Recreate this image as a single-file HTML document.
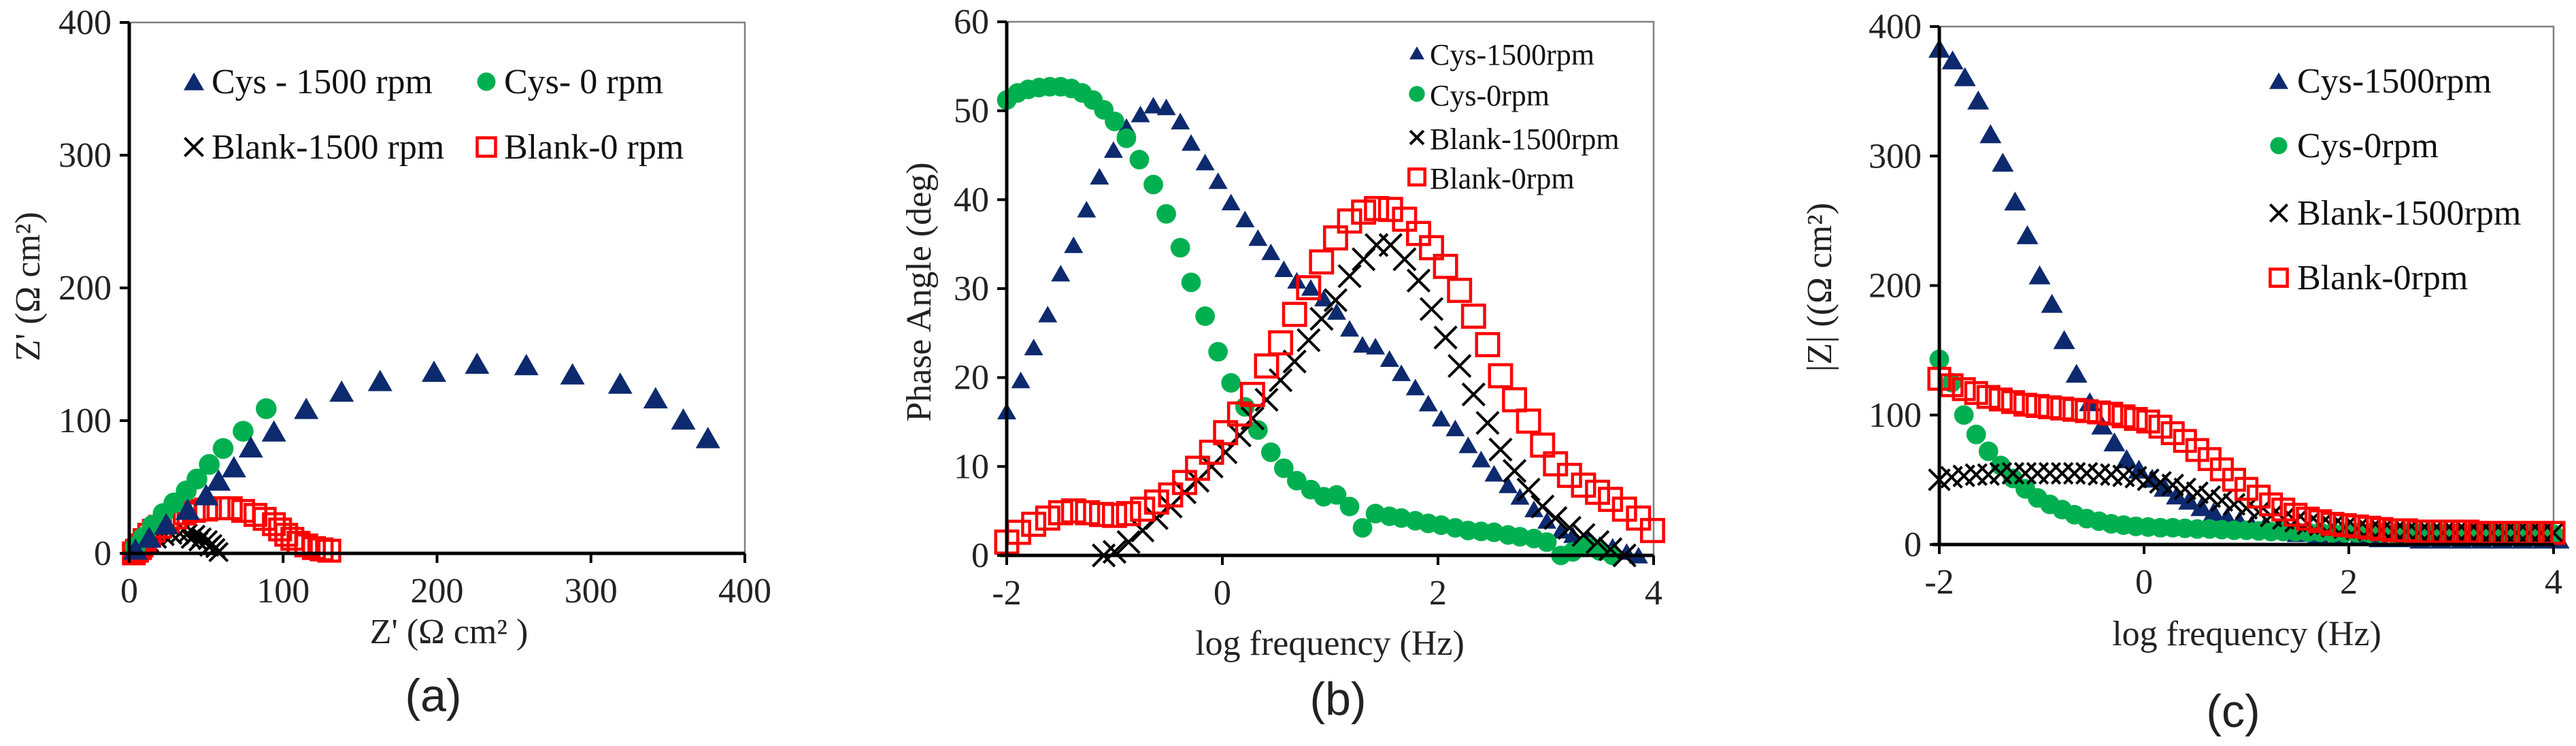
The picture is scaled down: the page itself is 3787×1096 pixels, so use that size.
<!DOCTYPE html>
<html><head><meta charset="utf-8">
<style>
html,body{margin:0;padding:0;background:#fff;}
svg{display:block;}
text{font-family:"Liberation Serif","Times New Roman",serif;}
</style></head>
<body>
<svg id="fig" width="3787" height="1096" viewBox="0 0 3787 1096" xmlns="http://www.w3.org/2000/svg" font-family="Liberation Serif, serif"></svg>
<script>
// ---------- Panel (a): Nyquist ----------
const aTicks = [0,100,200,300,400];
const aCys1500X = [376,360,342,319,288,258,226,198,163,138,115,94,79,68,58,50,38,24,13,4];
const aCys1500Y = [87,101,117,128,135,142,143,137,130,122,109,92,80,65,55,44,33,22,12,3];
const aCys0X = [89,74,61,52,44,37,29,22,15,9,4];
const aCys0Y = [109,92,79,67,56,47,38,30,21,12,5];
const aBlank1500X = [5,9,13,18,23,28,33,38,43,47,51,54,56,58,52,45,40];
const aBlank1500Y = [2,5,8,11,13,14,15,15,14,12,10,7,4,1,5,9,11];
const aBlank0X = [3,5,7,8,10,13,16,20,25,30,36,42,50,58,66,74,82,88,94,98,102,106,110,115,120,125,130];
const aBlank0Y = [0,2,4,6,10,14,17,20,24,27,30,32,33,34,34,32,29,26,22,18,14,11,8,6,4,3,2];

// ---------- Panel (b): Bode phase ----------
const bXTicks = [-2,0,2,4];
const bYTicks = [0,10,20,30,40,50,60];
const bCys1500X = [-2,-1.87,-1.75,-1.62,-1.5,-1.38,-1.26,-1.14,-1.01,-0.89,-0.76,-0.64,-0.52,-0.39,-0.29,-0.16,-0.04,0.08,0.21,0.33,0.45,0.57,0.69,0.82,0.94,1.06,1.18,1.3,1.42,1.55,1.66,1.79,1.91,2.03,2.16,2.28,2.4,2.52,2.65,2.76,2.89,3.01,3.14,3.25,3.38,3.5,3.62,3.75,3.86];
const bCys1500Y = [16.2,19.7,23.4,27.1,31.7,34.9,38.9,42.6,45.6,48.2,49.6,50.6,50.4,48.8,46.4,44.2,42.1,39.7,37.8,35.7,34.1,32.2,30.9,30.1,28.9,27.4,25.5,23.7,23.5,22.1,20.5,18.9,17.1,15.4,14.3,12.4,10.8,9.2,7.9,6.6,5.2,3.9,2.8,2.3,1.8,1.2,1.0,0.4,0];
const bCys0X = [-2,-1.9,-1.8,-1.7,-1.6,-1.5,-1.4,-1.3,-1.2,-1.1,-1.0,-0.89,-0.77,-0.64,-0.52,-0.39,-0.29,-0.16,-0.04,0.08,0.21,0.33,0.45,0.57,0.69,0.82,0.94,1.06,1.18,1.3,1.42,1.55,1.66,1.79,1.91,2.03,2.16,2.28,2.4,2.52,2.65,2.76,2.89,3.01,3.14,3.25,3.38,3.5,3.62];
const bCys0Y = [51.2,52,52.4,52.6,52.7,52.7,52.5,52,51.2,50.1,48.8,46.9,44.5,41.7,38.4,34.6,30.7,26.9,22.9,19.4,16.7,14.1,11.6,9.8,8.4,7.4,6.6,6.8,5.5,3.1,4.7,4.4,4.2,3.9,3.6,3.4,3.1,2.8,2.7,2.6,2.3,2.1,1.9,1.5,0,0.4,1.0,0.5,0];
const bBlank1500X = [-1.1,-1.0,-0.87,-0.74,-0.61,-0.48,-0.35,-0.23,-0.1,0.03,0.16,0.28,0.41,0.54,0.67,0.8,0.92,1.05,1.18,1.31,1.43,1.56,1.69,1.82,1.94,2.07,2.2,2.33,2.46,2.58,2.71,2.84,2.97,3.09,3.22,3.35,3.48,3.6,3.73];
const bBlank1500Y = [0,0.4,1.5,2.8,4.2,5.5,7.1,8.4,10,11.6,13.5,15.4,17.5,19.7,21.8,24.2,26.6,28.7,31.4,33.3,34.9,34.9,33.3,30.9,27.7,24.5,21.3,18.1,14.9,11.9,9.5,7.4,5.5,4.2,3.1,2.3,1.5,0.7,0];
const bBlank0X = [-2,-1.89,-1.75,-1.62,-1.5,-1.38,-1.25,-1.12,-1.0,-0.87,-0.74,-0.61,-0.48,-0.35,-0.23,-0.1,0.03,0.16,0.28,0.41,0.54,0.67,0.8,0.92,1.05,1.18,1.31,1.43,1.56,1.69,1.82,1.94,2.07,2.2,2.33,2.46,2.58,2.71,2.84,2.97,3.09,3.22,3.35,3.48,3.6,3.73,3.86,3.99];
const bBlank0Y = [1.5,2.6,3.5,4.2,4.8,5.0,4.8,4.6,4.5,4.7,5.2,6.0,6.8,8.2,9.8,11.6,13.8,15.9,18.1,21.3,23.9,27.1,30.1,33,35.7,37.6,38.6,39,38.9,37.8,36.2,34.6,32.5,29.8,26.9,23.7,20.2,17.5,15.1,12.4,10.3,9,7.9,7.1,6.3,5.2,4.2,2.8];

// ---------- Panel (c): Bode modulus ----------
const cXTicks = [-2,0,2,4];
const cYTicks = [0,100,200,300,400];
const cCys1500X = [-2,-1.87,-1.75,-1.62,-1.5,-1.38,-1.26,-1.14,-1.02,-0.9,-0.78,-0.66,-0.53,-0.41,-0.29,-0.17,-0.05,0.08,0.2,0.32,0.44,0.56,0.68,0.81,0.93,1.05,1.17,1.3,1.5,1.7,1.9,2.1,2.3,2.5,2.7,2.9,3.1,3.3,3.5,3.7,3.9,4.05];
const cCys1500Y = [383,374,361,343,317,295,265,239,208,186,158,132,110,92,79,66,58,51,44,38,34,29,25,21,18,15,13,11,9,8,7,6,5,5,4,4,4,4,4,4,4,4];
const cCys0X = [-2,-1.88,-1.76,-1.64,-1.52,-1.4,-1.28,-1.16,-1.04,-0.92,-0.8,-0.68,-0.56,-0.44,-0.32,-0.2,-0.08,0.04,0.16,0.28,0.4,0.52,0.64,0.76,0.88,1.0,1.12,1.24,1.36,1.48,1.6,1.72,1.84,1.96,2.08,2.2,2.32,2.44,2.56,2.68,2.8,2.92,3.04,3.16,3.28,3.4,3.52,3.64,3.76,3.88,4.0];
const cCys0Y = [143,125,100,85,72,61,51,43,36,31,27,23,20,18,16,15,14,13.5,13,13,12.5,12,12,11.5,11,11,10.5,10,10,10,9.5,9.5,9,9,9,9,9,8.5,8.5,8.5,8.5,8.5,8.5,8.5,8.5,8,8,8,8,8,8];
const cBlank1500X = [-2,-1.88,-1.76,-1.64,-1.52,-1.4,-1.28,-1.16,-1.04,-0.92,-0.8,-0.68,-0.56,-0.44,-0.32,-0.2,-0.08,0.04,0.16,0.28,0.4,0.52,0.64,0.76,0.88,1.0,1.12,1.24,1.36,1.48,1.6,1.72,1.84,1.96,2.08,2.2,2.32,2.44,2.56,2.68,2.8,2.92,3.04,3.16,3.28,3.4,3.52,3.64,3.76,3.88,4.0];
const cBlank1500Y = [50,52,53,54,54,55,55,55,55,55,55,55,55,54,54,53,52,50,48,46,43,40,37,34,31,28,25,22,20,18,16,15,14,13,12,11,11,10,10,9,9,9,9,9,9,9,9,9,9,9,9];
const cBlank0X = [-2,-1.88,-1.76,-1.64,-1.52,-1.4,-1.28,-1.16,-1.04,-0.92,-0.8,-0.68,-0.56,-0.44,-0.32,-0.2,-0.08,0.04,0.16,0.28,0.4,0.52,0.64,0.76,0.88,1.0,1.12,1.24,1.36,1.48,1.6,1.72,1.84,1.96,2.08,2.2,2.32,2.44,2.56,2.68,2.8,2.92,3.04,3.16,3.28,3.4,3.52,3.64,3.76,3.88,4.0];
const cBlank0Y = [128,123,120,117,114,112,110,108,107,106,105,104,103,102,101,99,97,95,91,86,80,73,66,58,50,43,37,31,27,23,20,18,16,15,14,13,12,11,11,10,10,10,10,10,9,9,9,9,9,9,9];

const NS = 'http://www.w3.org/2000/svg';
const svg = document.getElementById('fig');
const SERIF = '"Liberation Serif", "Times New Roman", serif';
function el(tag, attrs, parent){
  const e = document.createElementNS(NS, tag);
  for (const k in attrs) e.setAttribute(k, attrs[k]);
  (parent||svg).appendChild(e);
  return e;
}
function txt(str, attrs, parent){
  const t = el('text', attrs, parent);
  if (!attrs['font-family']) t.style.fontFamily = SERIF;
  else t.style.fontFamily = attrs['font-family'];
  t.textContent = str; return t;
}

const NAVY='#0d2a6e', GREEN='#00b050', RED='#ff0000';

function marker(g, kind, cx, cy, s){
  let m;
  if (kind==='tri'){
    m = el('path',{d:`M${cx},${cy-s*0.45} L${cx+s*0.5},${cy+s*0.42} L${cx-s*0.5},${cy+s*0.42} Z`,fill:NAVY},g);
  } else if (kind==='circ'){
    m = el('circle',{cx:cx,cy:cy,r:s*0.45,fill:GREEN},g);
  } else if (kind==='x'){
    const h=s*0.45;
    m = el('path',{d:`M${cx-h},${cy-h} L${cx+h},${cy+h} M${cx+h},${cy-h} L${cx-h},${cy+h}`,stroke:'#000','stroke-width':4,fill:'none'},g);
  } else {
    const h=s*0.45;
    m = el('rect',{x:cx-h,y:cy-h,width:2*h,height:2*h,stroke:RED,'stroke-width':4.5,fill:'none'},g);
  }
  return m;
}

function panel(cfg){
  const g = el('g',{});
  
  
  const sx = v => cfg.x0 + (v - cfg.xmin)/(cfg.xmax - cfg.xmin)*(cfg.x1 - cfg.x0);
  const sy = v => cfg.y0 - (v - cfg.ymin)/(cfg.ymax - cfg.ymin)*(cfg.y0 - cfg.y1);
  const fr = el('rect',{x:cfg.x0,y:cfg.y1,width:cfg.x1-cfg.x0,height:cfg.y0-cfg.y1,fill:'none',stroke:'#808080','stroke-width':2.5},g);
  
  
  cfg.series.forEach(s=>{
    const sg = el('g',{},g);
    
    
    for (let i=0;i<s.x.length;i++){
      const m = marker(sg, s.kind, sx(s.x[i]), sy(s.y[i]), s.size);
      
      
    }
  });
  const ya = el('line',{x1:cfg.x0,y1:cfg.y1,x2:cfg.x0,y2:cfg.y0,stroke:'#000','stroke-width':5},g);
  
  
  const xa = el('line',{x1:cfg.x0-10,y1:cfg.y0,x2:cfg.x1,y2:cfg.y0,stroke:'#000','stroke-width':5},g);
  
  
  cfg.yTicks.forEach(v=>{
    const y = sy(v);
    el('line',{x1:cfg.x0-14,y1:y,x2:cfg.x0,y2:y,stroke:'#000','stroke-width':4},g);
    const t = txt(String(v),{x:cfg.x0-26,y:y+17,'font-size':52,'text-anchor':'end',fill:'#222'},g);
    
    
  });
  cfg.xTicks.forEach(v=>{
    const x = sx(v);
    el('line',{x1:x,y1:cfg.y0,x2:x,y2:cfg.y0+14,stroke:'#000','stroke-width':4},g);
    const t = txt(String(v),{x:x,y:cfg.y0+72,'font-size':52,'text-anchor':'middle',fill:'#222'},g);
    
    
  });
  const xt = txt(cfg.xTitle,{x:cfg.xtx,y:cfg.xty,'font-size':52,'text-anchor':'middle',fill:'#222'},g);
  
  
  const yt = txt(cfg.yTitle,{x:0,y:0,'font-size':52,'text-anchor':'middle',fill:'#222',transform:`translate(${cfg.ytx},${cfg.yty}) rotate(-90)`},g);
  
  
  const cap = txt(cfg.caption,{x:cfg.capx,y:cfg.capy,'font-size':68,'text-anchor':'middle',fill:'#222','font-family':'"Liberation Sans", "DejaVu Sans", sans-serif'},g);
  
  
  const lg = el('g',{},g);
  
  
  cfg.legend.forEach(e=>{
    const eg = el('g',{},lg);
    
    
    marker(eg, e.kind, e.mx, e.y, e.ms);
    txt(e.label,{x:e.tx,y:e.y+17,'font-size':cfg.legendSize,fill:'#111'},eg);
  });
}

panel({name:'panel-a-nyquist',x0:190,x1:1095,y0:813,y1:33,xmin:0,xmax:400,ymin:0,ymax:400,
  xTicks:aTicks,yTicks:aTicks,xTitle:'Z\' (Ω cm² )',xtx:660,xty:945,yTitle:'Z\' (Ω cm²)',ytx:58,yty:421,
  caption:'(a)',capx:637,capy:1045,legendSize:52,
  series:[
    {name:'series-blank-1500rpm',kind:'x',x:aBlank1500X,y:aBlank1500Y,size:30},
    {name:'series-blank-0rpm',kind:'sq',x:aBlank0X,y:aBlank0Y,size:34},
    {name:'series-cys-0rpm',kind:'circ',x:aCys0X,y:aCys0Y,size:34},
    {name:'series-cys-1500rpm',kind:'tri',x:aCys1500X,y:aCys1500Y,size:36}],
  legend:[
    {kind:'tri',mx:285,tx:311,y:120,ms:30,label:'Cys - 1500 rpm'},
    {kind:'circ',mx:715,tx:741,y:120,ms:30,label:'Cys- 0 rpm'},
    {kind:'x',mx:285,tx:311,y:216,ms:30,label:'Blank-1500 rpm'},
    {kind:'sq',mx:715,tx:741,y:216,ms:30,label:'Blank-0 rpm'}]
});

panel({name:'panel-b-phase',x0:1480,x1:2431,y0:816,y1:32,xmin:-2,xmax:4,ymin:0,ymax:60,
  xTicks:bXTicks,yTicks:bYTicks,xTitle:'log frequency (Hz)',xtx:1955,xty:962,yTitle:'Phase Angle  (deg)',ytx:1368,yty:429,
  caption:'(b)',capx:1967,capy:1050,legendSize:44,
  series:[
    {name:'series-cys-1500rpm',kind:'tri',x:bCys1500X,y:bCys1500Y,size:28},
    {name:'series-cys-0rpm',kind:'circ',x:bCys0X,y:bCys0Y,size:32},
    {name:'series-blank-1500rpm',kind:'x',x:bBlank1500X,y:bBlank1500Y,size:36},
    {name:'series-blank-0rpm',kind:'sq',x:bBlank0X,y:bBlank0Y,size:36}],
  legend:[
    {kind:'tri',mx:2083,tx:2102,y:78,ms:22,label:'Cys-1500rpm'},
    {kind:'circ',mx:2083,tx:2102,y:138,ms:26,label:'Cys-0rpm'},
    {kind:'x',mx:2083,tx:2102,y:202,ms:22,label:'Blank-1500rpm'},
    {kind:'sq',mx:2083,tx:2102,y:260,ms:26,label:'Blank-0rpm'}]
});

panel({name:'panel-c-modulus',x0:2851,x1:3754,y0:800,y1:39,xmin:-2,xmax:4,ymin:0,ymax:400,
  xTicks:cXTicks,yTicks:cYTicks,xTitle:'log frequency (Hz)',xtx:3303,xty:948,yTitle:'|Z| ((Ω  cm²)',ytx:2692,yty:422,
  caption:'(c)',capx:3283,capy:1068,legendSize:52,
  series:[
    {name:'series-cys-1500rpm',kind:'tri',x:cCys1500X,y:cCys1500Y,size:32},
    {name:'series-cys-0rpm',kind:'circ',x:cCys0X,y:cCys0Y,size:32},
    {name:'series-blank-1500rpm',kind:'x',x:cBlank1500X,y:cBlank1500Y,size:34},
    {name:'series-blank-0rpm',kind:'sq',x:cBlank0X,y:cBlank0Y,size:34}],
  legend:[
    {kind:'tri',mx:3350,tx:3377,y:119,ms:28,label:'Cys-1500rpm'},
    {kind:'circ',mx:3350,tx:3377,y:214,ms:28,label:'Cys-0rpm'},
    {kind:'x',mx:3350,tx:3377,y:313,ms:28,label:'Blank-1500rpm'},
    {kind:'sq',mx:3350,tx:3377,y:408,ms:28,label:'Blank-0rpm'}]
});
</script>
</body></html>
